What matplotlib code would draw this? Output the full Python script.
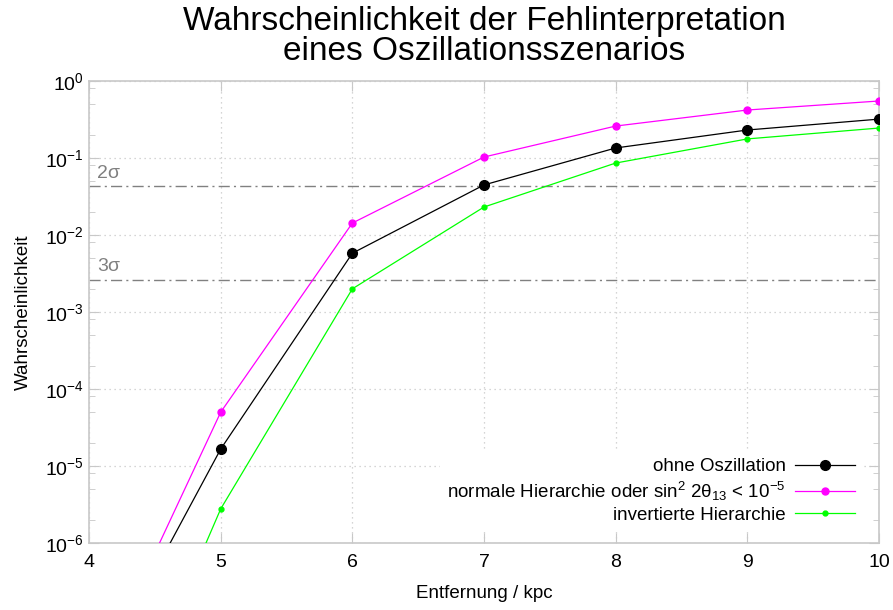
import numpy as np
import matplotlib
matplotlib.use("Agg")
import matplotlib.pyplot as plt
from matplotlib.ticker import FixedLocator, LogFormatterMathtext, NullFormatter

plt.rcParams['font.family'] = ['Liberation Sans', 'DejaVu Sans']
plt.rcParams['mathtext.fontset'] = 'custom'
plt.rcParams['mathtext.rm'] = 'Liberation Sans'
plt.rcParams['mathtext.it'] = 'Liberation Sans:italic'
plt.rcParams['mathtext.default'] = 'regular'

# data
distance = [4, 5, 6, 7, 8, 9, 10]
p_none = [1.1e-8, 1.66e-5, 5.8e-3, 0.0447, 0.135, 0.231, 0.32]
p_normal = [1.1e-8, 5.0e-5, 0.0143, 0.103, 0.26, 0.42, 0.55]
p_inverted = [3.0e-10, 2.77e-6, 2.0e-3, 0.0231, 0.086, 0.177, 0.245]

sigma_labels = ['2σ', '3σ']
sigma_levels = [0.043, 0.0026]

y_decades = [1e-6, 1e-5, 1e-4, 1e-3, 1e-2, 1e-1, 1e0]

grey = '#c8c8c8'

fig = plt.figure(figsize=(8.93, 6.10), dpi=100)
ax = fig.add_axes([0.0997, 0.1098, 0.8846, 0.7574])

ax.plot(distance, p_none, color='black', lw=0.9, marker='o', ms=7,
        label='ohne Oszillation', zorder=5)
ax.plot(distance, p_normal, color='#ff00ff', lw=0.9, marker='o', ms=5,
        label='normale Hierarchie oder sin$^2$ 2$\\theta_{13}$ < 10$^{-5}$', zorder=4)
ax.plot(distance, p_inverted, color='#00ff00', lw=0.9, marker='o', ms=3.5,
        label='invertierte Hierarchie', zorder=3)

for lab, lev in zip(sigma_labels, sigma_levels):
    ax.axhline(lev, color='#808080', lw=1.0, ls=(0, (8, 3, 1.5, 3)), zorder=2)
    ax.text(4.06, lev * 1.15, lab, color='#808080', fontsize=14,
            ha='left', va='bottom')

ax.set_yscale('log')
ax.set_xlim(4, 10)
ax.set_ylim(1e-6, 1)
ax.set_xticks(distance)
ax.yaxis.set_major_locator(FixedLocator(y_decades))
ax.yaxis.set_major_formatter(LogFormatterMathtext())
minors = [d * m for d in y_decades[:-1] for m in (2, 5, 8)]
ax.yaxis.set_minor_locator(FixedLocator(minors))
ax.yaxis.set_minor_formatter(NullFormatter())

ax.grid(True, which='major', color=grey, ls=(0, (1, 3)), lw=0.9, zorder=0)
for s in ax.spines.values():
    s.set_color(grey)
    s.set_linewidth(1.2)
ax.tick_params(which='both', direction='in', color=grey, top=True, right=True,
               labelsize=14, labelcolor='black')
ax.tick_params(which='major', length=7)
ax.tick_params(which='minor', length=4)
ax.tick_params(axis='x', pad=8)
ax.tick_params(axis='y', pad=4)

ax.set_xlabel('Entfernung / kpc', fontsize=13.5, labelpad=10)
ax.set_ylabel('Wahrscheinlichkeit', fontsize=13.5, labelpad=9)
ax.set_title('Wahrscheinlichkeit der Fehlinterpretation\neines Oszillationsszenarios',
             fontsize=24, linespacing=0.95, pad=15)

leg = ax.legend(loc='lower right', bbox_to_anchor=(0.991, 0.005), markerfirst=False,
                frameon=True, framealpha=1, facecolor='white', edgecolor='none',
                fontsize=13.5, handlelength=3.2, labelspacing=0.22, borderpad=0.4,
                handletextpad=0.5, fancybox=False)
leg.set_zorder(6)

fig.savefig('out.png', dpi=100)
